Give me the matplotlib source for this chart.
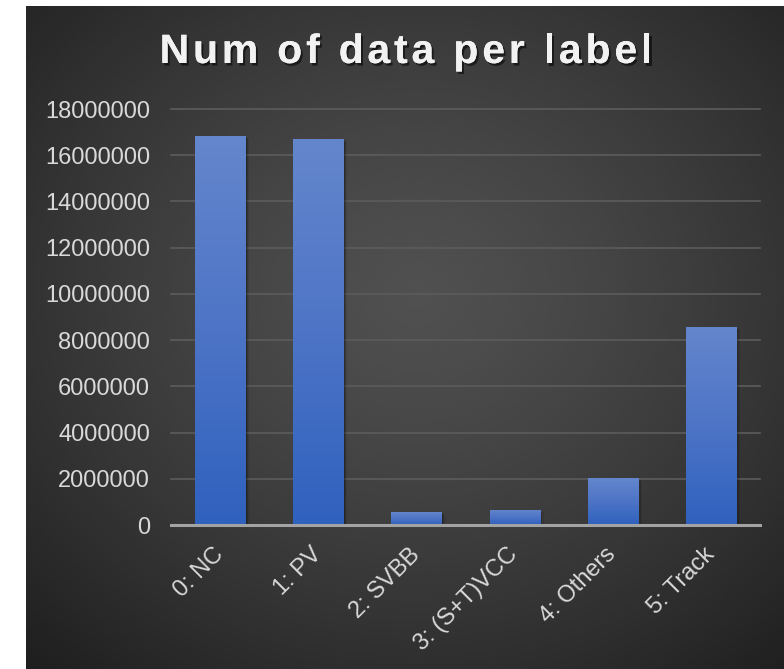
import numpy as np
import matplotlib
matplotlib.use("Agg")
import matplotlib.pyplot as plt
import matplotlib.patheffects as pe
from matplotlib.colors import LinearSegmentedColormap
from matplotlib.font_manager import FontProperties

categories = ["0: NC", "1: PV", "2: SVBB", "3: (S+T)VCC", "4: Others", "5: Track"]
counts = [16830000, 16700000, 560000, 650000, 2030000, 8570000]
yticks = list(range(0, 18000001, 2000000))
title = "Num of data per label"

W, H, DPI = 784, 669, 100
fig = plt.figure(figsize=(W / DPI, H / DPI), dpi=DPI, facecolor="white")

# dark panel with a soft radial gradient
bx0, by1 = 26, 6
bg = fig.add_axes([bx0 / W, 0, 1 - bx0 / W, (H - by1) / H])
bg.set_axis_off()
gy, gx = np.mgrid[0:300, 0:340]
cx, cy = 175, 130
r = np.hypot((gx - cx) / 340, (gy - cy) / 300)
r = r / r.max()
shade = 0.315 - 0.195 * r ** 1.3
bg.imshow(shade, cmap="gray", vmin=0, vmax=1, aspect="auto",
          extent=[0, 1, 0, 1], interpolation="bicubic")
bg.set_xlim(0, 1)
bg.set_ylim(0, 1)

# plotting area
ax_l, ax_r, ax_t, ax_b = 171, 760, 109, 525
ax = fig.add_axes([ax_l / W, (H - ax_b) / H, (ax_r - ax_l) / W, (ax_b - ax_t) / H])
ax.patch.set_alpha(0)
x = np.arange(len(categories))

for yv in yticks[1:]:
    ax.axhline(yv, color="#5c5c5c", lw=1.2, zorder=1, clip_on=False)

bar_cmap = LinearSegmentedColormap.from_list("barfill", ["#2f61be", "#4d74c6", "#6486cc"])
bars = ax.bar(x, counts, width=0.51, color="none", edgecolor="none", zorder=3)
grad = np.linspace(0, 1, 256).reshape(-1, 1)
for b in bars:
    x0, y0 = b.get_x(), b.get_y()
    w, h = b.get_width(), b.get_height()
    # soft shadow behind the bar, built from a few faint offset layers
    for k, a in [(1, 0.22), (2, 0.14), (3, 0.08)]:
        sh = plt.Rectangle((x0, y0), w, h, facecolor="none", edgecolor="none", zorder=2,
                           path_effects=[pe.SimplePatchShadow(offset=(k, -k * 0.6), alpha=a,
                                                              shadow_rgbFace="black")])
        ax.add_patch(sh)
    im = ax.imshow(grad, cmap=bar_cmap, vmin=0, vmax=1, aspect="auto", origin="lower",
                   extent=[x0, x0 + w, y0, y0 + h], zorder=3)
    im.set_clip_path(b)
ax.set_xlim(-0.5, len(categories) - 0.5)
ax.set_ylim(0, 18000000)

ax.axhline(0, color="#a3a3a3", lw=2.2, zorder=4, clip_on=False)

for s in ax.spines.values():
    s.set_visible(False)

lab_font = dict(family="Liberation Sans", size=17, color="#d9d9d9")
ax.set_yticks(yticks)
ax.set_yticklabels([str(v) for v in yticks], **lab_font)
ax.tick_params(axis="y", length=0, pad=15)
ax.set_xticks(x)
ax.set_xticklabels(categories, rotation=45, ha="right", va="center",
                   rotation_mode="anchor", **lab_font)
ax.tick_params(axis="x", length=0, pad=19)

# title drawn glyph by glyph to get the wide tracking
fig.canvas.draw()
renderer = fig.canvas.get_renderer()
fp = FontProperties(family="Liberation Sans", weight="bold", size=29.5)
spacing = 3.8
widths = [0]
for i in range(1, len(title) + 1):
    wpx, _, _ = renderer.get_text_width_height_descent(title[:i], fp, ismath=False)
    widths.append(wpx)
total = widths[-1] + spacing * (len(title) - 1)
start = 406 - total / 2
ty = 52
shadow = [pe.withSimplePatchShadow(offset=(1.5, -1.8), shadow_rgbFace="black", alpha=0.55),
          pe.Normal()]
for i, ch in enumerate(title):
    if ch == " ":
        continue
    px = start + widths[i] + spacing * i
    fig.text(px / W, 1 - ty / H, ch, fontproperties=fp, color="#f2f2f2",
             ha="left", va="center", path_effects=shadow)

fig.savefig("out.png", dpi=DPI, facecolor="white")
